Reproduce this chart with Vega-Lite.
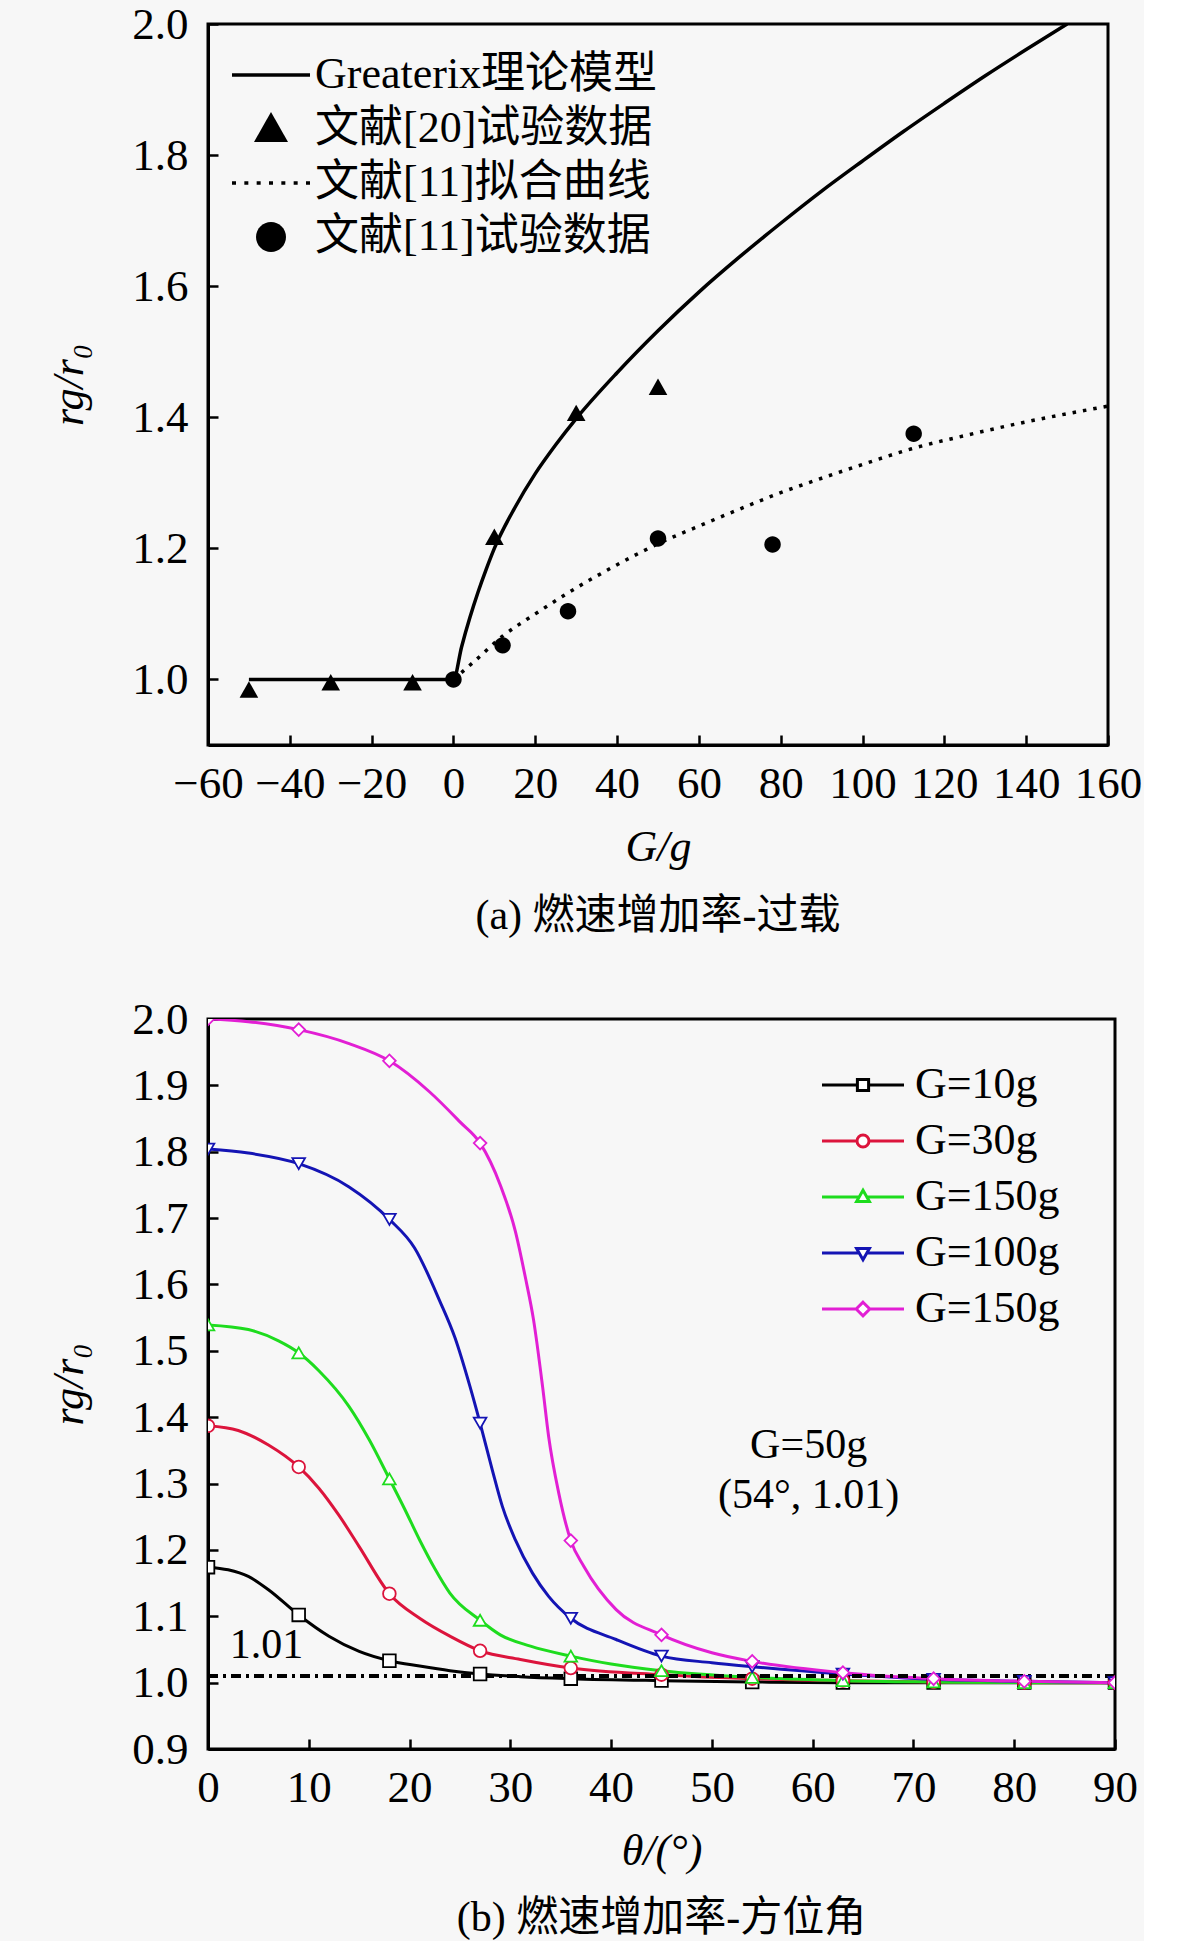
{
  "$schema": "https://vega.github.io/schema/vega-lite/v6.json",
  "background": "#f7f7f7",
  "padding": {"left": 46, "top": 0, "right": 0, "bottom": 0},
  "spacing": 56,
  "config": {
    "font": "Liberation Serif, Noto Sans CJK SC",
    "view": {"stroke": "black", "strokeWidth": 3},
    "axis": {
      "domainColor": "black", "domainWidth": 3,
      "tickColor": "black", "tickWidth": 2.5, "tickSize": -10,
      "labelFont": "Liberation Serif", "labelFontSize": 45, "labelColor": "black",
      "labelPadding": 30, "labelFlush": false, "labelOverlap": false,
      "titleFont": "Liberation Serif", "titleFontSize": 44, "titleFontWeight": "normal",
      "titleColor": "black", "titleFontStyle": "italic", "grid": false
    },
    "axisX": {"labelPadding": 26, "titlePadding": 19},
    "legend": {
      "labelFont": "Liberation Serif, Noto Sans CJK SC", "labelColor": "black",
      "padding": 0, "labelLimit": 0
    },
    "title": {
      "font": "Liberation Serif, Noto Sans CJK SC", "fontSize": 42,
      "fontWeight": "normal", "color": "black", "anchor": "middle"
    }
  },
  "datasets": {
    "theory": [
      {"G": -50, "r": 1.0}, {"G": 0, "r": 1.0}, {"G": 2, "r": 1.05}, {"G": 4, "r": 1.094},
      {"G": 6, "r": 1.133}, {"G": 8, "r": 1.168}, {"G": 10, "r": 1.2}, {"G": 15, "r": 1.262},
      {"G": 20, "r": 1.314}, {"G": 25, "r": 1.358}, {"G": 30, "r": 1.398}, {"G": 40, "r": 1.468},
      {"G": 50, "r": 1.532}, {"G": 60, "r": 1.591}, {"G": 70, "r": 1.645}, {"G": 80, "r": 1.696},
      {"G": 90, "r": 1.745}, {"G": 100, "r": 1.791}, {"G": 110, "r": 1.836}, {"G": 120, "r": 1.879},
      {"G": 130, "r": 1.921}, {"G": 140, "r": 1.961}, {"G": 150, "r": 2.0}
    ],
    "fit": [
      {"G": 0, "r": 1.0}, {"G": 5, "r": 1.027}, {"G": 12, "r": 1.066}, {"G": 20, "r": 1.1},
      {"G": 28, "r": 1.132}, {"G": 40, "r": 1.175}, {"G": 50, "r": 1.207}, {"G": 60, "r": 1.234},
      {"G": 70, "r": 1.26}, {"G": 80, "r": 1.285}, {"G": 90, "r": 1.307}, {"G": 100, "r": 1.328},
      {"G": 112, "r": 1.352}, {"G": 125, "r": 1.372}, {"G": 140, "r": 1.393}, {"G": 160, "r": 1.417}
    ],
    "tests": [
      {"G": -50, "r": 0.983, "src": "文献[20]试验数据"},
      {"G": -30, "r": 0.994, "src": "文献[20]试验数据"},
      {"G": -10, "r": 0.994, "src": "文献[20]试验数据"},
      {"G": 10, "r": 1.216, "src": "文献[20]试验数据"},
      {"G": 30, "r": 1.405, "src": "文献[20]试验数据"},
      {"G": 50, "r": 1.445, "src": "文献[20]试验数据"},
      {"G": 0, "r": 1.0, "src": "文献[11]试验数据"},
      {"G": 12, "r": 1.052, "src": "文献[11]试验数据"},
      {"G": 28, "r": 1.104, "src": "文献[11]试验数据"},
      {"G": 50, "r": 1.215, "src": "文献[11]试验数据"},
      {"G": 78, "r": 1.206, "src": "文献[11]试验数据"},
      {"G": 112.5, "r": 1.375, "src": "文献[11]试验数据"}
    ],
    "curves": [
      {"G": "10", "theta": 0, "r": 1.174}, {"G": "10", "theta": 2, "r": 1.17}, {"G": "10", "theta": 4, "r": 1.16},
      {"G": "10", "theta": 6, "r": 1.14}, {"G": "10", "theta": 9, "r": 1.102}, {"G": "10", "theta": 12, "r": 1.07},
      {"G": "10", "theta": 15, "r": 1.047}, {"G": "10", "theta": 18, "r": 1.033}, {"G": "10", "theta": 21, "r": 1.025},
      {"G": "10", "theta": 24, "r": 1.018}, {"G": "10", "theta": 27, "r": 1.013}, {"G": "10", "theta": 31, "r": 1.009},
      {"G": "10", "theta": 36, "r": 1.006}, {"G": "10", "theta": 45, "r": 1.003}, {"G": "10", "theta": 54, "r": 1.001},
      {"G": "10", "theta": 63, "r": 1.0}, {"G": "10", "theta": 72, "r": 1.0}, {"G": "10", "theta": 81, "r": 1.0},
      {"G": "10", "theta": 90, "r": 1.0},
      {"G": "30", "theta": 0, "r": 1.387}, {"G": "30", "theta": 3, "r": 1.38}, {"G": "30", "theta": 6, "r": 1.358},
      {"G": "30", "theta": 9, "r": 1.325}, {"G": "30", "theta": 11, "r": 1.293}, {"G": "30", "theta": 13, "r": 1.252},
      {"G": "30", "theta": 15, "r": 1.205}, {"G": "30", "theta": 18, "r": 1.134}, {"G": "30", "theta": 21, "r": 1.097},
      {"G": "30", "theta": 24, "r": 1.07}, {"G": "30", "theta": 27, "r": 1.048}, {"G": "30", "theta": 31, "r": 1.035},
      {"G": "30", "theta": 36, "r": 1.022}, {"G": "30", "theta": 45, "r": 1.012}, {"G": "30", "theta": 54, "r": 1.006},
      {"G": "30", "theta": 63, "r": 1.003}, {"G": "30", "theta": 72, "r": 1.001}, {"G": "30", "theta": 81, "r": 1.0},
      {"G": "30", "theta": 90, "r": 1.0},
      {"G": "50", "theta": 0, "r": 1.539}, {"G": "50", "theta": 4, "r": 1.532}, {"G": "50", "theta": 7, "r": 1.515},
      {"G": "50", "theta": 9, "r": 1.497}, {"G": "50", "theta": 11, "r": 1.47}, {"G": "50", "theta": 14, "r": 1.416},
      {"G": "50", "theta": 16, "r": 1.366}, {"G": "50", "theta": 18, "r": 1.307}, {"G": "50", "theta": 19.5, "r": 1.262},
      {"G": "50", "theta": 21, "r": 1.215}, {"G": "50", "theta": 22.5, "r": 1.172}, {"G": "50", "theta": 24, "r": 1.135},
      {"G": "50", "theta": 27, "r": 1.094}, {"G": "50", "theta": 29, "r": 1.072}, {"G": "50", "theta": 32, "r": 1.055},
      {"G": "50", "theta": 36, "r": 1.04}, {"G": "50", "theta": 40, "r": 1.028}, {"G": "50", "theta": 45, "r": 1.018},
      {"G": "50", "theta": 54, "r": 1.008}, {"G": "50", "theta": 63, "r": 1.003}, {"G": "50", "theta": 72, "r": 1.001},
      {"G": "50", "theta": 81, "r": 1.0}, {"G": "50", "theta": 90, "r": 1.0},
      {"G": "100", "theta": 0, "r": 1.804}, {"G": "100", "theta": 4, "r": 1.798}, {"G": "100", "theta": 9, "r": 1.782},
      {"G": "100", "theta": 14, "r": 1.747}, {"G": "100", "theta": 18, "r": 1.698}, {"G": "100", "theta": 20.5, "r": 1.655},
      {"G": "100", "theta": 23, "r": 1.575}, {"G": "100", "theta": 24.5, "r": 1.52}, {"G": "100", "theta": 26, "r": 1.446},
      {"G": "100", "theta": 27, "r": 1.391}, {"G": "100", "theta": 28.2, "r": 1.321}, {"G": "100", "theta": 29.2, "r": 1.266},
      {"G": "100", "theta": 30.5, "r": 1.215}, {"G": "100", "theta": 32.2, "r": 1.165}, {"G": "100", "theta": 33.8, "r": 1.13},
      {"G": "100", "theta": 36, "r": 1.097}, {"G": "100", "theta": 40.5, "r": 1.065}, {"G": "100", "theta": 45, "r": 1.04},
      {"G": "100", "theta": 50, "r": 1.03}, {"G": "100", "theta": 54, "r": 1.024}, {"G": "100", "theta": 63, "r": 1.013},
      {"G": "100", "theta": 72, "r": 1.005}, {"G": "100", "theta": 81, "r": 1.002}, {"G": "100", "theta": 90, "r": 1.0},
      {"G": "150", "theta": 0, "r": 2.0}, {"G": "150", "theta": 4, "r": 1.996}, {"G": "150", "theta": 9, "r": 1.984},
      {"G": "150", "theta": 14, "r": 1.963}, {"G": "150", "theta": 18, "r": 1.937}, {"G": "150", "theta": 22, "r": 1.89},
      {"G": "150", "theta": 25, "r": 1.845}, {"G": "150", "theta": 27, "r": 1.813}, {"G": "150", "theta": 29, "r": 1.75},
      {"G": "150", "theta": 30.5, "r": 1.68}, {"G": "150", "theta": 31.5, "r": 1.61}, {"G": "150", "theta": 32.3, "r": 1.547},
      {"G": "150", "theta": 33.2, "r": 1.446}, {"G": "150", "theta": 33.8, "r": 1.371}, {"G": "150", "theta": 34.8, "r": 1.286},
      {"G": "150", "theta": 36, "r": 1.214}, {"G": "150", "theta": 37.3, "r": 1.175}, {"G": "150", "theta": 40.5, "r": 1.11},
      {"G": "150", "theta": 45, "r": 1.072}, {"G": "150", "theta": 50, "r": 1.045}, {"G": "150", "theta": 54, "r": 1.032},
      {"G": "150", "theta": 63, "r": 1.015}, {"G": "150", "theta": 72, "r": 1.006}, {"G": "150", "theta": 81, "r": 1.002},
      {"G": "150", "theta": 90, "r": 1.0}
    ]
  },
  "vconcat": [
    {
      "width": 900,
      "height": 721,
      "title": {"text": "(a) 燃速增加率-过载", "orient": "bottom", "offset": 27},
      "layer": [
        {
          "data": {"name": "theory"},
          "mark": {"type": "line", "color": "black", "strokeWidth": 3.5, "interpolate": "monotone", "clip": true},
          "encoding": {
            "x": {"field": "G", "type": "quantitative",
                  "scale": {"domain": [-60, 160], "nice": false, "zero": false},
                  "axis": {"title": "G/g", "values": [-60, -40, -20, 0, 20, 40, 60, 80, 100, 120, 140, 160]}},
            "y": {"field": "r", "type": "quantitative",
                  "scale": {"domain": [0.9, 2.0], "nice": false, "zero": false},
                  "axis": {"title": "rg/r₀", "values": [1.0, 1.2, 1.4, 1.6, 1.8, 2.0], "format": ".1f", "titlePadding": 40}}
          }
        },
        {
          "data": {"name": "fit"},
          "mark": {"type": "line", "color": "black", "strokeWidth": 3.5, "strokeDash": [3.5, 7], "interpolate": "monotone", "clip": true},
          "encoding": {
            "x": {"field": "G", "type": "quantitative"},
            "y": {"field": "r", "type": "quantitative"}
          }
        },
        {
          "data": {"name": "tests"},
          "mark": {"type": "point", "filled": true, "color": "black", "opacity": 1, "size": 480},
          "encoding": {
            "x": {"field": "G", "type": "quantitative"},
            "y": {"field": "r", "type": "quantitative"},
            "shape": {
              "field": "src", "type": "nominal",
              "scale": {
                "domain": ["Greaterix理论模型", "文献[20]试验数据", "文献[11]拟合曲线", "文献[11]试验数据"],
                "range": [
                  "M-1.95,-0.09H1.95V0.09H-1.95Z",
                  "M0,-0.85L0.85,0.65L-0.85,0.65Z",
                  "M-1.95,-0.09h0.2v0.18h-0.2zM-1.333,-0.09h0.2v0.18h-0.2zM-0.717,-0.09h0.2v0.18h-0.2zM-0.1,-0.09h0.2v0.18h-0.2zM0.517,-0.09h0.2v0.18h-0.2zM1.133,-0.09h0.2v0.18h-0.2zM1.75,-0.09h0.2v0.18h-0.2z",
                  "M-0.75,0A0.75,0.75 0 1,0 0.75,0A0.75,0.75 0 1,0 -0.75,0Z"
                ]
              },
              "legend": {
                "title": null, "orient": "none", "legendX": 41, "legendY": 29,
                "symbolSize": 1600, "symbolFillColor": "black", "symbolStrokeWidth": 0,
                "labelFontSize": 44, "rowPadding": 10, "labelOffset": 22
              }
            }
          }
        }
      ]
    },
    {
      "width": 907,
      "height": 730,
      "title": {"text": "(b) 燃速增加率-方位角", "orient": "bottom", "offset": 25},
      "resolve": {"scale": {"shape": "independent", "color": "independent"}},
      "layer": [
        {
          "data": {"name": "curves"},
          "mark": {"type": "line", "strokeWidth": 3, "interpolate": "monotone", "clip": true},
          "encoding": {
            "x": {"field": "theta", "type": "quantitative",
                  "scale": {"domain": [0, 90], "nice": false},
                  "axis": {"title": "θ/(°)", "values": [0, 10, 20, 30, 40, 50, 60, 70, 80, 90]}},
            "y": {"field": "r", "type": "quantitative",
                  "scale": {"domain": [0.9, 2.0], "nice": false, "zero": false},
                  "axis": {"title": "rg/r₀", "values": [0.9, 1.0, 1.1, 1.2, 1.3, 1.4, 1.5, 1.6, 1.7, 1.8, 1.9, 2.0], "format": ".1f", "titlePadding": 40}},
            "stroke": {"field": "G", "type": "nominal",
                       "scale": {"domain": ["10", "30", "50", "100", "150"], "range": ["#000000", "#DC143C", "#1EDC1E", "#1414B4", "#E21FD4"]},
                       "legend": null}
          }
        },
        {
          "data": {"values": [{}]},
          "mark": {"type": "rule", "color": "black", "strokeWidth": 4, "strokeDash": [10, 5, 3, 5]},
          "encoding": {"y": {"datum": 1.01}}
        },
        {
          "data": {"name": "curves"},
          "transform": [{"filter": "datum.theta % 9 == 0"}],
          "mark": {"type": "point", "filled": false, "fill": "white", "strokeWidth": 1.8, "size": 160, "opacity": 1, "clip": true},
          "encoding": {
            "x": {"field": "theta", "type": "quantitative"},
            "y": {"field": "r", "type": "quantitative"},
            "stroke": {"field": "G", "type": "nominal", "legend": null},
            "shape": {"field": "G", "type": "nominal",
                      "scale": {"domain": ["10", "30", "50", "100", "150"], "range": ["square", "circle", "triangle-up", "triangle-down", "diamond"]},
                      "legend": null}
          }
        },
        {
          "data": {"values": [{}]},
          "mark": {"type": "text", "fontSize": 42, "color": "black"},
          "encoding": {"x": {"datum": 5.8}, "y": {"datum": 1.057}, "text": {"value": "1.01"}}
        },
        {
          "data": {"values": [{}]},
          "mark": {"type": "text", "fontSize": 42, "color": "black"},
          "encoding": {"x": {"datum": 59.6}, "y": {"datum": 1.358}, "text": {"value": "G=50g"}}
        },
        {
          "data": {"values": [{}]},
          "mark": {"type": "text", "fontSize": 42, "color": "black"},
          "encoding": {"x": {"datum": 59.6}, "y": {"datum": 1.282}, "text": {"value": "(54°, 1.01)"}}
        },
        {
          "data": {"name": "curves"},
          "transform": [{"filter": "false"}],
          "mark": {"type": "point", "filled": false, "fill": "white", "strokeWidth": 3, "opacity": 1},
          "encoding": {
            "x": {"field": "theta", "type": "quantitative"},
            "y": {"field": "r", "type": "quantitative"},
            "color": {"field": "G", "type": "nominal",
                      "scale": {"domain": ["10", "30", "50", "100", "150"], "range": ["#000000", "#DC143C", "#1EDC1E", "#1414B4", "#E21FD4"]},
                      "legend": {"title": null, "orient": "none", "legendX": 633, "legendY": 44,
                                 "symbolSize": 1600, "symbolStrokeWidth": 3, "symbolFillColor": "white",
                                 "labelFontSize": 44, "rowPadding": 12, "labelOffset": 30,
                                 "labelExpr": "datum.label == '50' ? 'G=150g' : 'G=' + datum.label + 'g'"}},
            "shape": {"field": "G", "type": "nominal",
                      "scale": {"domain": ["10", "30", "50", "100", "150"],
                                "range": [
                                  "M-2.05,0H-0.28M0.28,0H2.05M-0.28,-0.28H0.28V0.28H-0.28Z",
                                  "M-2.05,0H-0.3M0.3,0H2.05M0.3,0A0.3,0.3 0 1,1 -0.3,0A0.3,0.3 0 1,1 0.3,0Z",
                                  "M-2.05,0H-0.2M0.2,0H2.05M0,-0.34L0.32,0.22L-0.32,0.22Z",
                                  "M-2.05,0H-0.2M0.2,0H2.05M0,0.34L0.32,-0.22L-0.32,-0.22Z",
                                  "M-2.05,0H-0.34M0.34,0H2.05M0,-0.34L0.34,0L0,0.34L-0.34,0Z"
                                ]},
                      "legend": {"title": null, "orient": "none", "legendX": 633, "legendY": 44,
                                 "symbolSize": 1600, "symbolStrokeWidth": 3, "symbolFillColor": "white",
                                 "labelFontSize": 44, "rowPadding": 12, "labelOffset": 30,
                                 "labelExpr": "datum.label == '50' ? 'G=150g' : 'G=' + datum.label + 'g'"}}
          }
        }
      ]
    }
  ]
}
